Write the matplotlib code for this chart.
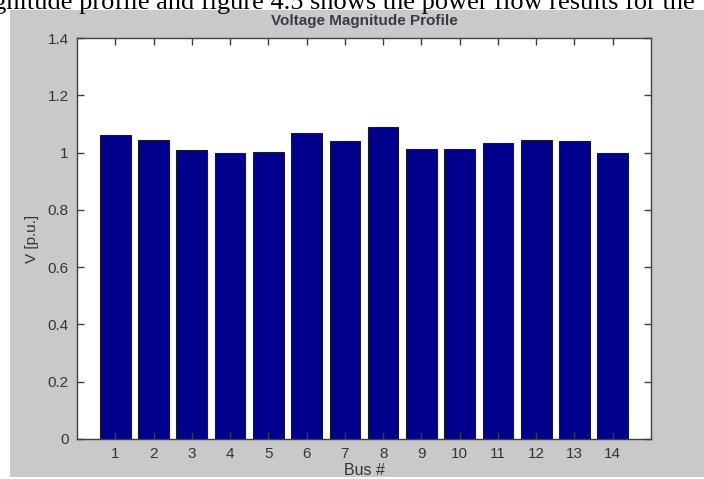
import matplotlib
matplotlib.use('Agg')
import matplotlib.pyplot as plt
from matplotlib.patches import Rectangle

# bus numbers and voltage magnitudes
buses = [1, 2, 3, 4, 5, 6, 7, 8, 9, 10, 11, 12, 13, 14]
voltage = [1.06, 1.045, 1.01, 0.998, 1.002, 1.07, 1.04, 1.09,
           1.014, 1.014, 1.033, 1.045, 1.039, 0.998]
yticks = [0, 0.2, 0.4, 0.6, 0.8, 1, 1.2, 1.4]
ytick_labels = ['0', '0.2', '0.4', '0.6', '0.8', '1', '1.2', '1.4']

fig = plt.figure(figsize=(7.04, 4.79), dpi=100)
fig.patch.set_facecolor('white')

# grey matlab figure window area (behind everything)
fig.patches.append(Rectangle((10 / 704, 0.004), 1.0, 1 - 10 / 479 - 0.004,
                             transform=fig.transFigure, facecolor='#c9c9c9',
                             edgecolor='none', zorder=-10))

# line of body text above the figure, cut off by the top edge
fig.text(695 / 704, 1 - 8.5 / 479,
         'magnitude profile and figure 4.5 shows the power flow results for the',
         ha='right', va='baseline', fontsize=19, family='Liberation Serif',
         color='black')

ax = fig.add_axes([77 / 704, 1 - 439 / 479, (651 - 77) / 704, (439 - 38) / 479])
ax.set_zorder(5)
ax.set_facecolor('white')
ax.bar(buses, voltage, width=0.8, color='#00008c', edgecolor='#1a1a2a',
       linewidth=0.8)

ax.set_xlim(0, 15)
ax.set_ylim(0, 1.4)
ax.set_xticks(buses)
ax.set_yticks(yticks)
ax.set_yticklabels(ytick_labels)

txt = '#33333d'
ax.tick_params(direction='in', length=5, width=1, color='#404040',
               top=True, right=True, labelsize=11, labelcolor=txt, pad=6)
for s in ax.spines.values():
    s.set_color('#404040')
    s.set_linewidth(1)

ax.set_title('Voltage Magnitude Profile', fontsize=11, fontweight='bold',
             color='#3a3a44', pad=9.5, family='Liberation Sans')
ax.set_xlabel('Bus #', fontsize=11.5, color=txt, labelpad=1,
              family='Liberation Sans')
ax.set_ylabel('V [p.u.]', fontsize=11, color=txt, labelpad=6,
              family='Liberation Sans')
for lab in ax.get_xticklabels() + ax.get_yticklabels():
    lab.set_family('Liberation Sans')

fig.savefig('out.png', dpi=100)
